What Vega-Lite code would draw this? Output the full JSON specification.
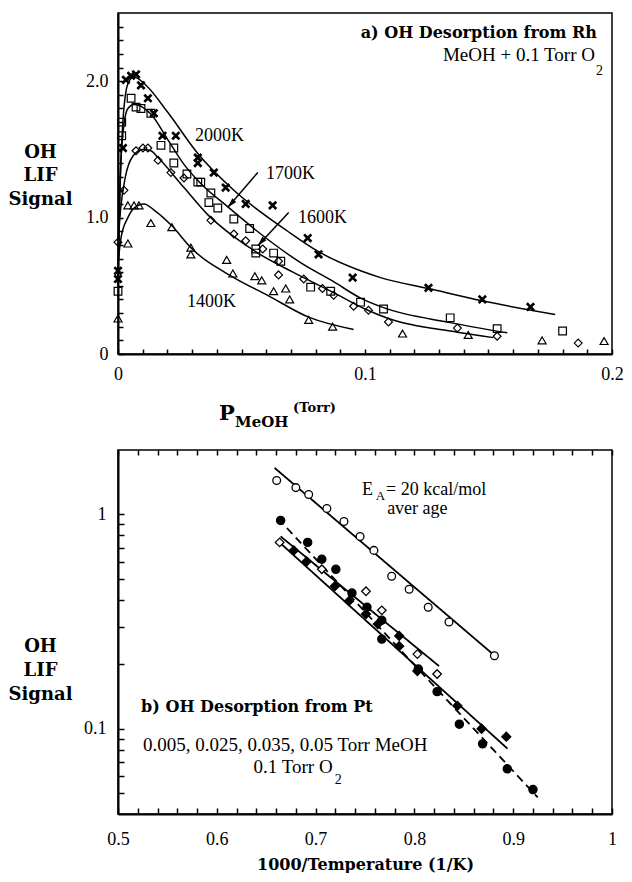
{
  "$schema": "https://vega.github.io/schema/vega-lite/v6.json",
  "background": "white",
  "padding": {"left": 7, "top": 12, "right": 0, "bottom": 0},
  "spacing": 96,
  "bounds": "flush",
  "resolve": {"scale": {"shape": "independent", "fill": "independent", "size": "independent", "strokeDash": "independent"}},
  "config": {
    "view": {"stroke": "black", "strokeWidth": 1.5},
    "axis": {
      "grid": false, "domainColor": "black", "domainWidth": 2,
      "ticks": true, "tickColor": "black", "tickWidth": 1.5, "tickOpacity": 1,
      "labelColor": "black", "labelFont": "Liberation Serif", "labelFontSize": 18,
      "labelFlush": false, "labelOverlap": false,
      "titleColor": "black", "titleFont": "DejaVu Serif", "titleFontWeight": "bold", "titleFontSize": 18
    }
  },
  "datasets": {
    "rh_pts": [
      {"series": "2000K", "p": 0, "s": 0.61}, {"series": "2000K", "p": 0, "s": 0.55},
      {"series": "2000K", "p": 0.002, "s": 1.51}, {"series": "2000K", "p": 0.0032, "s": 2.01},
      {"series": "2000K", "p": 0.0053, "s": 2.04}, {"series": "2000K", "p": 0.0073, "s": 2.05},
      {"series": "2000K", "p": 0.0093, "s": 1.97}, {"series": "2000K", "p": 0.0121, "s": 1.875},
      {"series": "2000K", "p": 0.0145, "s": 1.765}, {"series": "2000K", "p": 0.018, "s": 1.6},
      {"series": "2000K", "p": 0.0234, "s": 1.6}, {"series": "2000K", "p": 0.0323, "s": 1.44},
      {"series": "2000K", "p": 0.0323, "s": 1.4}, {"series": "2000K", "p": 0.0388, "s": 1.33},
      {"series": "2000K", "p": 0.0436, "s": 1.22}, {"series": "2000K", "p": 0.0517, "s": 1.1},
      {"series": "2000K", "p": 0.0626, "s": 1.09}, {"series": "2000K", "p": 0.0768, "s": 0.85},
      {"series": "2000K", "p": 0.0812, "s": 0.73}, {"series": "2000K", "p": 0.095, "s": 0.56},
      {"series": "2000K", "p": 0.1257, "s": 0.485}, {"series": "2000K", "p": 0.1475, "s": 0.4},
      {"series": "2000K", "p": 0.167, "s": 0.345},
      {"series": "1700K", "p": 0, "s": 0.46}, {"series": "1700K", "p": 0.0015, "s": 1.6},
      {"series": "1700K", "p": 0.0015, "s": 1.7}, {"series": "1700K", "p": 0.0053, "s": 1.875},
      {"series": "1700K", "p": 0.0073, "s": 1.81}, {"series": "1700K", "p": 0.0093, "s": 1.8},
      {"series": "1700K", "p": 0.0133, "s": 1.765}, {"series": "1700K", "p": 0.0174, "s": 1.53},
      {"series": "1700K", "p": 0.0226, "s": 1.51}, {"series": "1700K", "p": 0.0226, "s": 1.4},
      {"series": "1700K", "p": 0.0279, "s": 1.32}, {"series": "1700K", "p": 0.0323, "s": 1.26},
      {"series": "1700K", "p": 0.0335, "s": 1.26}, {"series": "1700K", "p": 0.0368, "s": 1.11},
      {"series": "1700K", "p": 0.0376, "s": 1.18}, {"series": "1700K", "p": 0.0404, "s": 1.07},
      {"series": "1700K", "p": 0.0469, "s": 0.99}, {"series": "1700K", "p": 0.0533, "s": 0.92},
      {"series": "1700K", "p": 0.0558, "s": 0.77}, {"series": "1700K", "p": 0.0558, "s": 0.74},
      {"series": "1700K", "p": 0.063, "s": 0.74}, {"series": "1700K", "p": 0.0659, "s": 0.68},
      {"series": "1700K", "p": 0.078, "s": 0.49}, {"series": "1700K", "p": 0.0861, "s": 0.46},
      {"series": "1700K", "p": 0.0982, "s": 0.38}, {"series": "1700K", "p": 0.1075, "s": 0.33},
      {"series": "1700K", "p": 0.1345, "s": 0.265}, {"series": "1700K", "p": 0.1535, "s": 0.186},
      {"series": "1700K", "p": 0.18, "s": 0.169},
      {"series": "1600K", "p": 0, "s": 0.82}, {"series": "1600K", "p": 0.0024, "s": 1.2},
      {"series": "1600K", "p": 0.0073, "s": 1.49}, {"series": "1600K", "p": 0.0101, "s": 1.51},
      {"series": "1600K", "p": 0.0121, "s": 1.51}, {"series": "1600K", "p": 0.0162, "s": 1.42},
      {"series": "1600K", "p": 0.0214, "s": 1.33}, {"series": "1600K", "p": 0.0267, "s": 1.29},
      {"series": "1600K", "p": 0.0376, "s": 0.98}, {"series": "1600K", "p": 0.0469, "s": 0.88},
      {"series": "1600K", "p": 0.0517, "s": 0.83}, {"series": "1600K", "p": 0.0586, "s": 0.77},
      {"series": "1600K", "p": 0.065, "s": 0.68}, {"series": "1600K", "p": 0.065, "s": 0.58},
      {"series": "1600K", "p": 0.0752, "s": 0.55}, {"series": "1600K", "p": 0.0828, "s": 0.48},
      {"series": "1600K", "p": 0.0873, "s": 0.43}, {"series": "1600K", "p": 0.0954, "s": 0.35},
      {"series": "1600K", "p": 0.1014, "s": 0.32}, {"series": "1600K", "p": 0.1095, "s": 0.235},
      {"series": "1600K", "p": 0.1374, "s": 0.19}, {"series": "1600K", "p": 0.1535, "s": 0.13},
      {"series": "1600K", "p": 0.1863, "s": 0.08},
      {"series": "1400K", "p": 0, "s": 0.26}, {"series": "1400K", "p": 0.004, "s": 0.81},
      {"series": "1400K", "p": 0.004, "s": 1.09}, {"series": "1400K", "p": 0.0065, "s": 1.09},
      {"series": "1400K", "p": 0.0085, "s": 1.09}, {"series": "1400K", "p": 0.0133, "s": 0.96},
      {"series": "1400K", "p": 0.0218, "s": 0.93}, {"series": "1400K", "p": 0.0295, "s": 0.78},
      {"series": "1400K", "p": 0.0295, "s": 0.73}, {"series": "1400K", "p": 0.044, "s": 0.69},
      {"series": "1400K", "p": 0.0465, "s": 0.59}, {"series": "1400K", "p": 0.0554, "s": 0.57},
      {"series": "1400K", "p": 0.0582, "s": 0.54}, {"series": "1400K", "p": 0.063, "s": 0.46},
      {"series": "1400K", "p": 0.0679, "s": 0.48}, {"series": "1400K", "p": 0.0695, "s": 0.4},
      {"series": "1400K", "p": 0.0772, "s": 0.25}, {"series": "1400K", "p": 0.0869, "s": 0.2},
      {"series": "1400K", "p": 0.1152, "s": 0.15}, {"series": "1400K", "p": 0.1418, "s": 0.14},
      {"series": "1400K", "p": 0.1717, "s": 0.1}, {"series": "1400K", "p": 0.1968, "s": 0.095}
    ],
    "rh_fit": [
      {"series": "2000K", "p": 0, "s": 0.55}, {"series": "2000K", "p": 0.0008, "s": 1.2},
      {"series": "2000K", "p": 0.0018, "s": 1.65}, {"series": "2000K", "p": 0.003, "s": 1.9},
      {"series": "2000K", "p": 0.0045, "s": 2.0}, {"series": "2000K", "p": 0.0065, "s": 2.03},
      {"series": "2000K", "p": 0.0113, "s": 1.97}, {"series": "2000K", "p": 0.0202, "s": 1.77},
      {"series": "2000K", "p": 0.0323, "s": 1.47}, {"series": "2000K", "p": 0.0469, "s": 1.2},
      {"series": "2000K", "p": 0.0687, "s": 0.9}, {"series": "2000K", "p": 0.0812, "s": 0.75},
      {"series": "2000K", "p": 0.0982, "s": 0.61}, {"series": "2000K", "p": 0.1063, "s": 0.56},
      {"series": "2000K", "p": 0.1257, "s": 0.48}, {"series": "2000K", "p": 0.1475, "s": 0.39},
      {"series": "2000K", "p": 0.177, "s": 0.29},
      {"series": "1700K", "p": 0, "s": 0.5}, {"series": "1700K", "p": 0.0008, "s": 1.25},
      {"series": "1700K", "p": 0.002, "s": 1.62}, {"series": "1700K", "p": 0.004, "s": 1.8},
      {"series": "1700K", "p": 0.0065, "s": 1.83}, {"series": "1700K", "p": 0.0133, "s": 1.76},
      {"series": "1700K", "p": 0.0202, "s": 1.57}, {"series": "1700K", "p": 0.0267, "s": 1.39},
      {"series": "1700K", "p": 0.0335, "s": 1.25}, {"series": "1700K", "p": 0.0444, "s": 1.08},
      {"series": "1700K", "p": 0.0578, "s": 0.88}, {"series": "1700K", "p": 0.0739, "s": 0.67},
      {"series": "1700K", "p": 0.0873, "s": 0.53}, {"series": "1700K", "p": 0.0982, "s": 0.41},
      {"series": "1700K", "p": 0.1075, "s": 0.34}, {"series": "1700K", "p": 0.1345, "s": 0.23},
      {"series": "1700K", "p": 0.1576, "s": 0.155},
      {"series": "1600K", "p": 0, "s": 0.8}, {"series": "1600K", "p": 0.001, "s": 1.05},
      {"series": "1600K", "p": 0.003, "s": 1.3}, {"series": "1600K", "p": 0.006, "s": 1.45},
      {"series": "1600K", "p": 0.01, "s": 1.5}, {"series": "1600K", "p": 0.0133, "s": 1.49},
      {"series": "1600K", "p": 0.0162, "s": 1.44}, {"series": "1600K", "p": 0.0267, "s": 1.22},
      {"series": "1600K", "p": 0.0364, "s": 1.02}, {"series": "1600K", "p": 0.0469, "s": 0.86},
      {"series": "1600K", "p": 0.0566, "s": 0.74}, {"series": "1600K", "p": 0.0708, "s": 0.6},
      {"series": "1600K", "p": 0.0873, "s": 0.45}, {"series": "1600K", "p": 0.1, "s": 0.33},
      {"series": "1600K", "p": 0.1095, "s": 0.26}, {"series": "1600K", "p": 0.1374, "s": 0.16},
      {"series": "1600K", "p": 0.152, "s": 0.12},
      {"series": "1400K", "p": 0, "s": 0.66}, {"series": "1400K", "p": 0.0012, "s": 0.85},
      {"series": "1400K", "p": 0.004, "s": 1.0}, {"series": "1400K", "p": 0.0065, "s": 1.07},
      {"series": "1400K", "p": 0.0105, "s": 1.1}, {"series": "1400K", "p": 0.015, "s": 1.05},
      {"series": "1400K", "p": 0.0218, "s": 0.94}, {"series": "1400K", "p": 0.0295, "s": 0.78},
      {"series": "1400K", "p": 0.0469, "s": 0.56}, {"series": "1400K", "p": 0.0606, "s": 0.43},
      {"series": "1400K", "p": 0.0772, "s": 0.27}, {"series": "1400K", "p": 0.0954, "s": 0.18}
    ],
    "rh_arrows": [
      {"p": 0.0566, "s": 1.331, "p2": 0.0444, "s2": 1.074},
      {"p": 0.0691, "s": 1.037, "p2": 0.0566, "s2": 0.794}
    ],
    "rh_arrow_tips": [
      {"p": 0.0444, "s": 1.074},
      {"p": 0.0566, "s": 0.794}
    ],
    "pt_pts": [
      {"set": "s1", "t": 0.6606, "s": 1.44}, {"set": "s1", "t": 0.68, "s": 1.335},
      {"set": "s1", "t": 0.693, "s": 1.24}, {"set": "s1", "t": 0.7114, "s": 1.066},
      {"set": "s1", "t": 0.7287, "s": 0.928}, {"set": "s1", "t": 0.745, "s": 0.79},
      {"set": "s1", "t": 0.759, "s": 0.68}, {"set": "s1", "t": 0.777, "s": 0.515},
      {"set": "s1", "t": 0.7947, "s": 0.448}, {"set": "s1", "t": 0.814, "s": 0.369},
      {"set": "s1", "t": 0.835, "s": 0.315}, {"set": "s1", "t": 0.881, "s": 0.219},
      {"set": "s2", "t": 0.6646, "s": 0.938}, {"set": "s2", "t": 0.692, "s": 0.741},
      {"set": "s2", "t": 0.7063, "s": 0.618}, {"set": "s2", "t": 0.7205, "s": 0.555},
      {"set": "s2", "t": 0.7368, "s": 0.43}, {"set": "s2", "t": 0.752, "s": 0.369},
      {"set": "s2", "t": 0.767, "s": 0.321}, {"set": "s2", "t": 0.767, "s": 0.262},
      {"set": "s2", "t": 0.804, "s": 0.19}, {"set": "s2", "t": 0.823, "s": 0.149},
      {"set": "s2", "t": 0.8455, "s": 0.105}, {"set": "s2", "t": 0.869, "s": 0.085},
      {"set": "s2", "t": 0.894, "s": 0.065}, {"set": "s2", "t": 0.92, "s": 0.052},
      {"set": "s3", "t": 0.6636, "s": 0.741}, {"set": "s3", "t": 0.7063, "s": 0.555},
      {"set": "s3", "t": 0.751, "s": 0.438}, {"set": "s3", "t": 0.767, "s": 0.357},
      {"set": "s3", "t": 0.803, "s": 0.223}, {"set": "s3", "t": 0.823, "s": 0.18},
      {"set": "s4", "t": 0.678, "s": 0.68}, {"set": "s4", "t": 0.691, "s": 0.604},
      {"set": "s4", "t": 0.7195, "s": 0.463}, {"set": "s4", "t": 0.7337, "s": 0.394},
      {"set": "s4", "t": 0.751, "s": 0.343}, {"set": "s4", "t": 0.763, "s": 0.308},
      {"set": "s4", "t": 0.7846, "s": 0.271}, {"set": "s4", "t": 0.7846, "s": 0.243},
      {"set": "s4", "t": 0.803, "s": 0.186}, {"set": "s4", "t": 0.8435, "s": 0.128},
      {"set": "s4", "t": 0.868, "s": 0.1}, {"set": "s4", "t": 0.893, "s": 0.0918}
    ],
    "pt_fit": [
      {"set": "s1", "t": 0.6585, "s": 1.65}, {"set": "s1", "t": 0.883, "s": 0.216},
      {"set": "s2", "t": 0.662, "s": 0.958}, {"set": "s2", "t": 0.9248, "s": 0.0478},
      {"set": "s3", "t": 0.6646, "s": 0.79}, {"set": "s3", "t": 0.825, "s": 0.196},
      {"set": "s4", "t": 0.6657, "s": 0.725}, {"set": "s4", "t": 0.8943, "s": 0.0807}
    ]
  },
  "vconcat": [
    {
      "width": 494,
      "height": 341,
      "encoding": {
        "x": {
          "field": "p", "type": "quantitative",
          "scale": {"domain": [0, 0.2], "nice": false, "zero": false},
          "axis": {
            "title": null,
            "values": [0, 0.01, 0.02, 0.03, 0.04, 0.05, 0.06, 0.07, 0.08, 0.09, 0.1, 0.11, 0.12, 0.13, 0.14, 0.15, 0.16, 0.17, 0.18, 0.19, 0.2],
            "format": ".2~f",
            "labelExpr": "indexof(['0', '0.1', '0.2'], datum.label) >= 0 ? datum.label : ''",
            "tickSize": -5,
            "labelPadding": 16,
            "zindex": 1
          }
        },
        "y": {
          "field": "s", "type": "quantitative",
          "scale": {"domain": [0, 2.5], "nice": false},
          "axis": {
            "title": ["OH", "LIF", "Signal"],
            "titleAngle": 0, "titleAlign": "center", "titleBaseline": "alphabetic",
            "titleX": -78, "titleY": 144, "titleLineHeight": 23.5,
            "values": [0, 0.1, 0.2, 0.3, 0.4, 0.5, 0.6, 0.7, 0.8, 0.9, 1, 1.1, 1.2, 1.3, 1.4, 1.5, 1.6, 1.7, 1.8, 1.9, 2, 2.1, 2.2, 2.3, 2.4],
            "format": ".1f",
            "labelExpr": "datum.label == '0.0' ? '0' : (datum.label == '1.0' || datum.label == '2.0' ? datum.label : '')",
            "tickSize": -5,
            "labelPadding": 15,
            "zindex": 1
          }
        }
      },
      "layer": [
        {
          "data": {"name": "rh_fit"},
          "mark": {"type": "line", "interpolate": "monotone", "color": "black", "strokeWidth": 1.5},
          "encoding": {"detail": {"field": "series", "type": "nominal"}}
        },
        {
          "data": {"name": "rh_pts"},
          "mark": {"type": "point", "filled": true, "opacity": 1, "stroke": "black", "strokeWidth": 1.2},
          "encoding": {
            "shape": {
              "field": "series", "type": "nominal", "legend": null,
              "scale": {
                "domain": ["2000K", "1700K", "1600K", "1400K"],
                "range": ["M-1,-0.72L-0.72,-1L0,-0.28L0.72,-1L1,-0.72L0.28,0L1,0.72L0.72,1L0,0.28L-0.72,1L-1,0.72L-0.28,0Z", "square", "diamond", "triangle-up"]
              }
            },
            "fill": {
              "field": "series", "type": "nominal", "legend": null,
              "scale": {"domain": ["2000K", "1700K", "1600K", "1400K"], "range": ["black", "transparent", "transparent", "transparent"]}
            },
            "size": {
              "field": "series", "type": "nominal", "legend": null,
              "scale": {"domain": ["2000K", "1700K", "1600K", "1400K"], "range": [56, 64, 40, 56]}
            }
          }
        },
        {
          "data": {"name": "rh_arrows"},
          "mark": {"type": "rule", "color": "black", "strokeWidth": 1.5},
          "encoding": {"x2": {"field": "p2"}, "y2": {"field": "s2"}}
        },
        {
          "data": {"name": "rh_arrow_tips"},
          "mark": {"type": "point", "shape": "M0,0L0.6,2.2L-0.6,2.2Z", "filled": true, "color": "black", "opacity": 1, "size": 81, "angle": 222}
        },
        {
          "data": {"values": [
            {"label": "2000K", "p": 0.0312, "s": 1.562},
            {"label": "1700K", "p": 0.0599, "s": 1.283},
            {"label": "1600K", "p": 0.0729, "s": 0.96},
            {"label": "1400K", "p": 0.0279, "s": 0.345}
          ]},
          "mark": {"type": "text", "font": "Liberation Serif", "fontSize": 18, "align": "left", "baseline": "alphabetic", "color": "black"},
          "encoding": {"text": {"field": "label"}}
        },
        {
          "data": {"values": [{"label": "a) OH Desorption from Rh", "p": 0.1939, "s": 2.317}]},
          "mark": {"type": "text", "font": "DejaVu Serif", "fontWeight": "bold", "fontSize": 16, "align": "right", "baseline": "alphabetic", "color": "black"},
          "encoding": {"text": {"field": "label"}}
        },
        {
          "data": {"values": [{"label": "MeOH + 0.1 Torr O", "p": 0.1931, "s": 2.148}]},
          "mark": {"type": "text", "font": "Liberation Serif", "fontSize": 19, "align": "right", "baseline": "alphabetic", "color": "black"},
          "encoding": {"text": {"field": "label"}}
        },
        {
          "data": {"values": [{"label": "2", "p": 0.1935, "s": 2.045}]},
          "mark": {"type": "text", "font": "Liberation Serif", "fontSize": 14, "align": "left", "baseline": "alphabetic", "color": "black"},
          "encoding": {"text": {"field": "label"}}
        },
        {
          "data": {"values": [{"label": "P", "p": 0.0409, "s": -0.484}]},
          "mark": {"type": "text", "font": "DejaVu Serif", "fontWeight": "bold", "fontSize": 21, "align": "left", "baseline": "alphabetic", "color": "black"},
          "encoding": {"text": {"field": "label"}}
        },
        {
          "data": {"values": [{"label": "MeOH", "p": 0.0474, "s": -0.535}]},
          "mark": {"type": "text", "font": "DejaVu Serif", "fontWeight": "bold", "fontSize": 15, "align": "left", "baseline": "alphabetic", "color": "black"},
          "encoding": {"text": {"field": "label"}}
        },
        {
          "data": {"values": [{"label": "(Torr)", "p": 0.0709, "s": -0.425}]},
          "mark": {"type": "text", "font": "DejaVu Serif", "fontWeight": "bold", "fontSize": 13, "align": "left", "baseline": "alphabetic", "color": "black"},
          "encoding": {"text": {"field": "label"}}
        }
      ]
    },
    {
      "width": 494,
      "height": 364,
      "resolve": {"axis": {"x": "independent"}},
      "layer": [
        {
          "encoding": {
            "x": {
              "field": "t", "type": "quantitative",
              "scale": {"domain": [0.5, 1], "nice": false, "zero": false},
              "axis": {
                "title": "1000/Temperature (1/K)", "titleFontSize": 16,
                "titleY": 55, "titleBaseline": "alphabetic",
                "values": [0.5, 0.52, 0.54, 0.56, 0.58, 0.6, 0.62, 0.64, 0.66, 0.68, 0.7, 0.72, 0.74, 0.76, 0.78, 0.8, 0.82, 0.84, 0.86, 0.88, 0.9, 0.92, 0.94, 0.96, 0.98, 1],
                "format": ".2~f",
                "labelExpr": "indexof(['0.5', '0.6', '0.7', '0.8', '0.9', '1'], datum.label) >= 0 ? datum.label : ''",
                "tickSize": -6,
                "labelPadding": 22,
                "zindex": 1
              }
            },
            "y": {
              "field": "s", "type": "quantitative",
              "scale": {"type": "log", "domain": [0.04, 2], "nice": false},
              "axis": {
                "title": ["OH", "LIF", "Signal"],
                "titleAngle": 0, "titleAlign": "center", "titleBaseline": "alphabetic",
                "titleX": -78, "titleY": 201, "titleLineHeight": 24,
                "values": [0.05, 0.06, 0.07, 0.08, 0.09, 0.1, 0.2, 0.3, 0.4, 0.5, 0.6, 0.7, 0.8, 0.9, 1],
                "labelExpr": "datum.value == 1 ? '1' : (datum.value == 0.1 ? '0.1' : '')",
                "tickSize": -6,
                "labelPadding": 18,
                "zindex": 1
              }
            }
          },
          "layer": [
            {
              "data": {"name": "pt_fit"},
              "mark": {"type": "line", "color": "black", "strokeWidth": 1.8},
              "encoding": {
                "detail": {"field": "set", "type": "nominal"},
                "strokeDash": {
                  "field": "set", "type": "nominal", "legend": null,
                  "scale": {"domain": ["s1", "s2", "s3", "s4"], "range": [[1, 0], [8, 5], [1, 0], [1, 0]]}
                }
              }
            },
            {
              "data": {"values": [{"label": "E", "t": 0.747, "s": 1.239}, {"label": "= 20 kcal/mol", "t": 0.7713, "s": 1.239}, {"label": "aver age", "t": 0.7724, "s": 1.0}]},
              "mark": {"type": "text", "font": "Liberation Serif", "fontSize": 18, "align": "left", "baseline": "alphabetic", "color": "black"},
              "encoding": {"text": {"field": "label"}}
            },
            {
              "data": {"values": [{"label": "A", "t": 0.761, "s": 1.174}]},
              "mark": {"type": "text", "font": "Liberation Serif", "fontSize": 13, "align": "left", "baseline": "alphabetic", "color": "black"},
              "encoding": {"text": {"field": "label"}}
            },
            {
              "data": {"values": [{"label": "b) OH Desorption from Pt", "t": 0.5234, "s": 0.12}]},
              "mark": {"type": "text", "font": "DejaVu Serif", "fontWeight": "bold", "fontSize": 16, "align": "left", "baseline": "alphabetic", "color": "black"},
              "encoding": {"text": {"field": "label"}}
            },
            {
              "data": {"values": [{"label": "0.005, 0.025, 0.035, 0.05 Torr MeOH", "t": 0.5254, "s": 0.079}, {"label": "0.1 Torr O", "t": 0.6372, "s": 0.0624}]},
              "mark": {"type": "text", "font": "Liberation Serif", "fontSize": 19, "align": "left", "baseline": "alphabetic", "color": "black"},
              "encoding": {"text": {"field": "label"}}
            },
            {
              "data": {"values": [{"label": "2", "t": 0.7195, "s": 0.0555}]},
              "mark": {"type": "text", "font": "Liberation Serif", "fontSize": 14, "align": "left", "baseline": "alphabetic", "color": "black"},
              "encoding": {"text": {"field": "label"}}
            }
          ]
        },
        {
          "data": {"name": "pt_pts"},
          "mark": {"type": "point", "filled": true, "opacity": 1, "stroke": "black", "strokeWidth": 1.3},
          "encoding": {
            "x": {
              "field": "t", "type": "quantitative",
              "scale": {"domain": [0.5, 1], "nice": false, "zero": false},
              "axis": {
                "orient": "top", "title": null, "labels": false, "domain": false,
                "values": [0.5, 0.52, 0.54, 0.56, 0.58, 0.6, 0.62, 0.64, 0.66, 0.68, 0.7, 0.72, 0.74, 0.76, 0.78, 0.8, 0.82, 0.84, 0.86, 0.88, 0.9, 0.92, 0.94, 0.96, 0.98, 1],
                "tickSize": -5,
                "zindex": 1
              }
            },
            "y": {"field": "s", "type": "quantitative", "scale": {"type": "log", "domain": [0.04, 2], "nice": false}},
            "shape": {
              "field": "set", "type": "nominal", "legend": null,
              "scale": {"domain": ["s1", "s2", "s3", "s4"], "range": ["circle", "circle", "diamond", "diamond"]}
            },
            "fill": {
              "field": "set", "type": "nominal", "legend": null,
              "scale": {"domain": ["s1", "s2", "s3", "s4"], "range": ["white", "black", "white", "black"]}
            },
            "size": {
              "field": "set", "type": "nominal", "legend": null,
              "scale": {"domain": ["s1", "s2", "s3", "s4"], "range": [60, 80, 48, 48]}
            }
          }
        }
      ]
    }
  ]
}
